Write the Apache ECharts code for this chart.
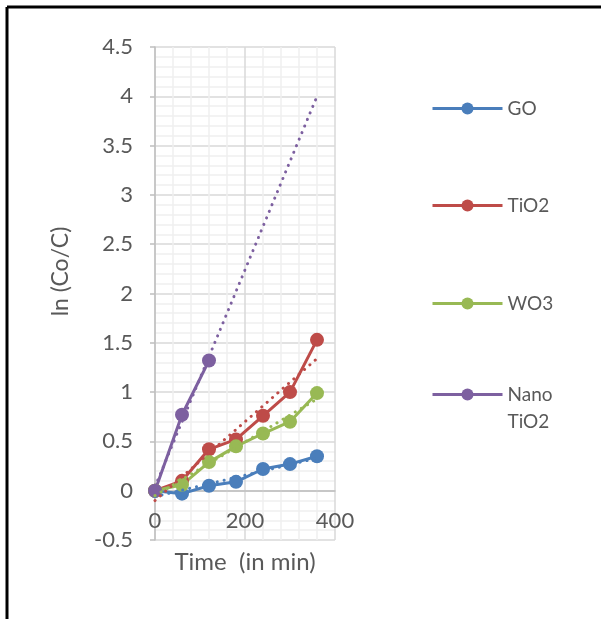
<!DOCTYPE html>
<html>
<head>
<meta charset="utf-8">
<script src="https://cdn.jsdelivr.net/npm/echarts@6/dist/echarts.min.js"></script>
<style>
  body { margin: 0; background: #fff; }
  #chart { width: 601px; height: 619px; }
</style>
</head>
<body>
<div id="chart"></div>
<script>
// data
const timeMin = [0, 60, 120, 180, 240, 300, 360];
const goValues = [0, -0.03, 0.05, 0.09, 0.22, 0.27, 0.35];
const tio2Values = [0, 0.1, 0.42, 0.52, 0.76, 1.0, 1.53];
const wo3Values = [0, 0.06, 0.29, 0.45, 0.58, 0.7, 0.99];
const nanoTime = [0, 60, 120];
const nanoValues = [0, 0.77, 1.32];

// dotted trend lines (end points)
const trendTime = [0, 360];
const goTrend = [-0.06, 0.33];
const tio2Trend = [-0.1, 1.34];
const wo3Trend = [-0.05, 0.93];
const nanoTrend = [0.04, 4.0];

const seriesNames = ['GO', 'TiO2', 'WO3', 'Nano TiO2'];
const colors = ['#4A7EBB', '#BE4B48', '#98B954', '#7D60A0'];

const pairs = (xs, ys) => xs.map((x, i) => [x, ys[i]]);

const chart = echarts.init(document.getElementById('chart'));
const font = 'Lato, "Open Sans", sans-serif';
const gray = '#595959';

// plot area: 0 on the y axis sits half a step (0.5 of 5 units) above the bottom
const gridTop = 47, gridBottom = 79;
const zeroOffset = (619 - gridTop - gridBottom) * 0.5 / 5;

const lineSeries = (name, data, color) => ({
    name, type: 'line', data,
    symbol: 'circle', symbolSize: 14,
    lineStyle: { color, width: 3 },
    itemStyle: { color },
    z: 3
});
const trendSeries = (data, color) => ({
    type: 'line', data, symbol: 'none', silent: true,
    lineStyle: { color, width: 3, type: [0.1, 7], cap: 'round' },
    z: 4
});

const legendBase = (name, top) => ({
    data: [name], left: 431, top, orient: 'vertical', padding: 0,
    itemWidth: 70, itemHeight: 15, itemGap: 0,
    lineStyle: { width: 3 },
    textStyle: { fontFamily: font, fontSize: 19, color: gray }
});

chart.setOption({
    animation: false,
    color: colors,
    grid: { left: 155, right: 266, top: gridTop, bottom: gridBottom, outerBoundsMode: 'none' },
    legend: [
        legendBase('GO', 99),
        legendBase('TiO2', 196),
        legendBase('WO3', 294),
        Object.assign(legendBase('Nano TiO2', 354), {
            formatter: () => ' \nNano\nTiO2',
            textStyle: { fontFamily: font, fontSize: 19, color: gray, lineHeight: 27 }
        })
    ],
    xAxis: {
        type: 'value', min: 0, max: 400, interval: 200,
        offset: -zeroOffset,
        name: 'Time  (in min)', nameLocation: 'middle', nameGap: 60,
        nameTextStyle: { fontFamily: font, fontSize: 24, color: gray },
        axisLine: { onZero: false, lineStyle: { color: '#BFBFBF', width: 1.5 } },
        axisTick: { show: false },
        axisLabel: { fontFamily: font, fontSize: 22, color: gray, margin: 19 },
        splitLine: { lineStyle: { color: '#D9D9D9', width: 1.5 } },
        minorTick: { show: false, splitNumber: 5 },
        minorSplitLine: { show: true, lineStyle: { color: '#F0F0F0', width: 1.5 } }
    },
    yAxis: {
        type: 'value', min: -0.5, max: 4.5, interval: 0.5,
        name: 'ln (Co/C)', nameLocation: 'middle', nameGap: 83,
        nameTextStyle: { fontFamily: font, fontSize: 23, color: gray, padding: [0, 0, 0, 44] },
        axisLine: { show: true, onZero: false, lineStyle: { color: '#BFBFBF', width: 1.5 } },
        axisTick: { show: true, length: 5, lineStyle: { color: '#BFBFBF', width: 1.5 } },
        axisLabel: { fontFamily: font, fontSize: 22, color: gray, margin: 22 },
        splitLine: { lineStyle: { color: '#D9D9D9', width: 1.5 } },
        minorTick: { show: false, splitNumber: 5 },
        minorSplitLine: { show: true, lineStyle: { color: '#F0F0F0', width: 1.5 } }
    },
    graphic: [
        { type: 'line', shape: { x1: 7, y1: 7, x2: 601, y2: 7 }, style: { stroke: '#000', lineWidth: 3 } },
        { type: 'line', shape: { x1: 7, y1: 7, x2: 7, y2: 619 }, style: { stroke: '#000', lineWidth: 3 } }
    ],
    series: [
        lineSeries(seriesNames[0], pairs(timeMin, goValues), colors[0]),
        lineSeries(seriesNames[1], pairs(timeMin, tio2Values), colors[1]),
        lineSeries(seriesNames[2], pairs(timeMin, wo3Values), colors[2]),
        lineSeries(seriesNames[3], pairs(nanoTime, nanoValues), colors[3]),
        trendSeries(pairs(trendTime, goTrend), colors[0]),
        trendSeries(pairs(trendTime, tio2Trend), colors[1]),
        trendSeries(pairs(trendTime, wo3Trend), colors[2]),
        trendSeries(pairs(trendTime, nanoTrend), colors[3])
    ]
});
</script>
</body>
</html>
